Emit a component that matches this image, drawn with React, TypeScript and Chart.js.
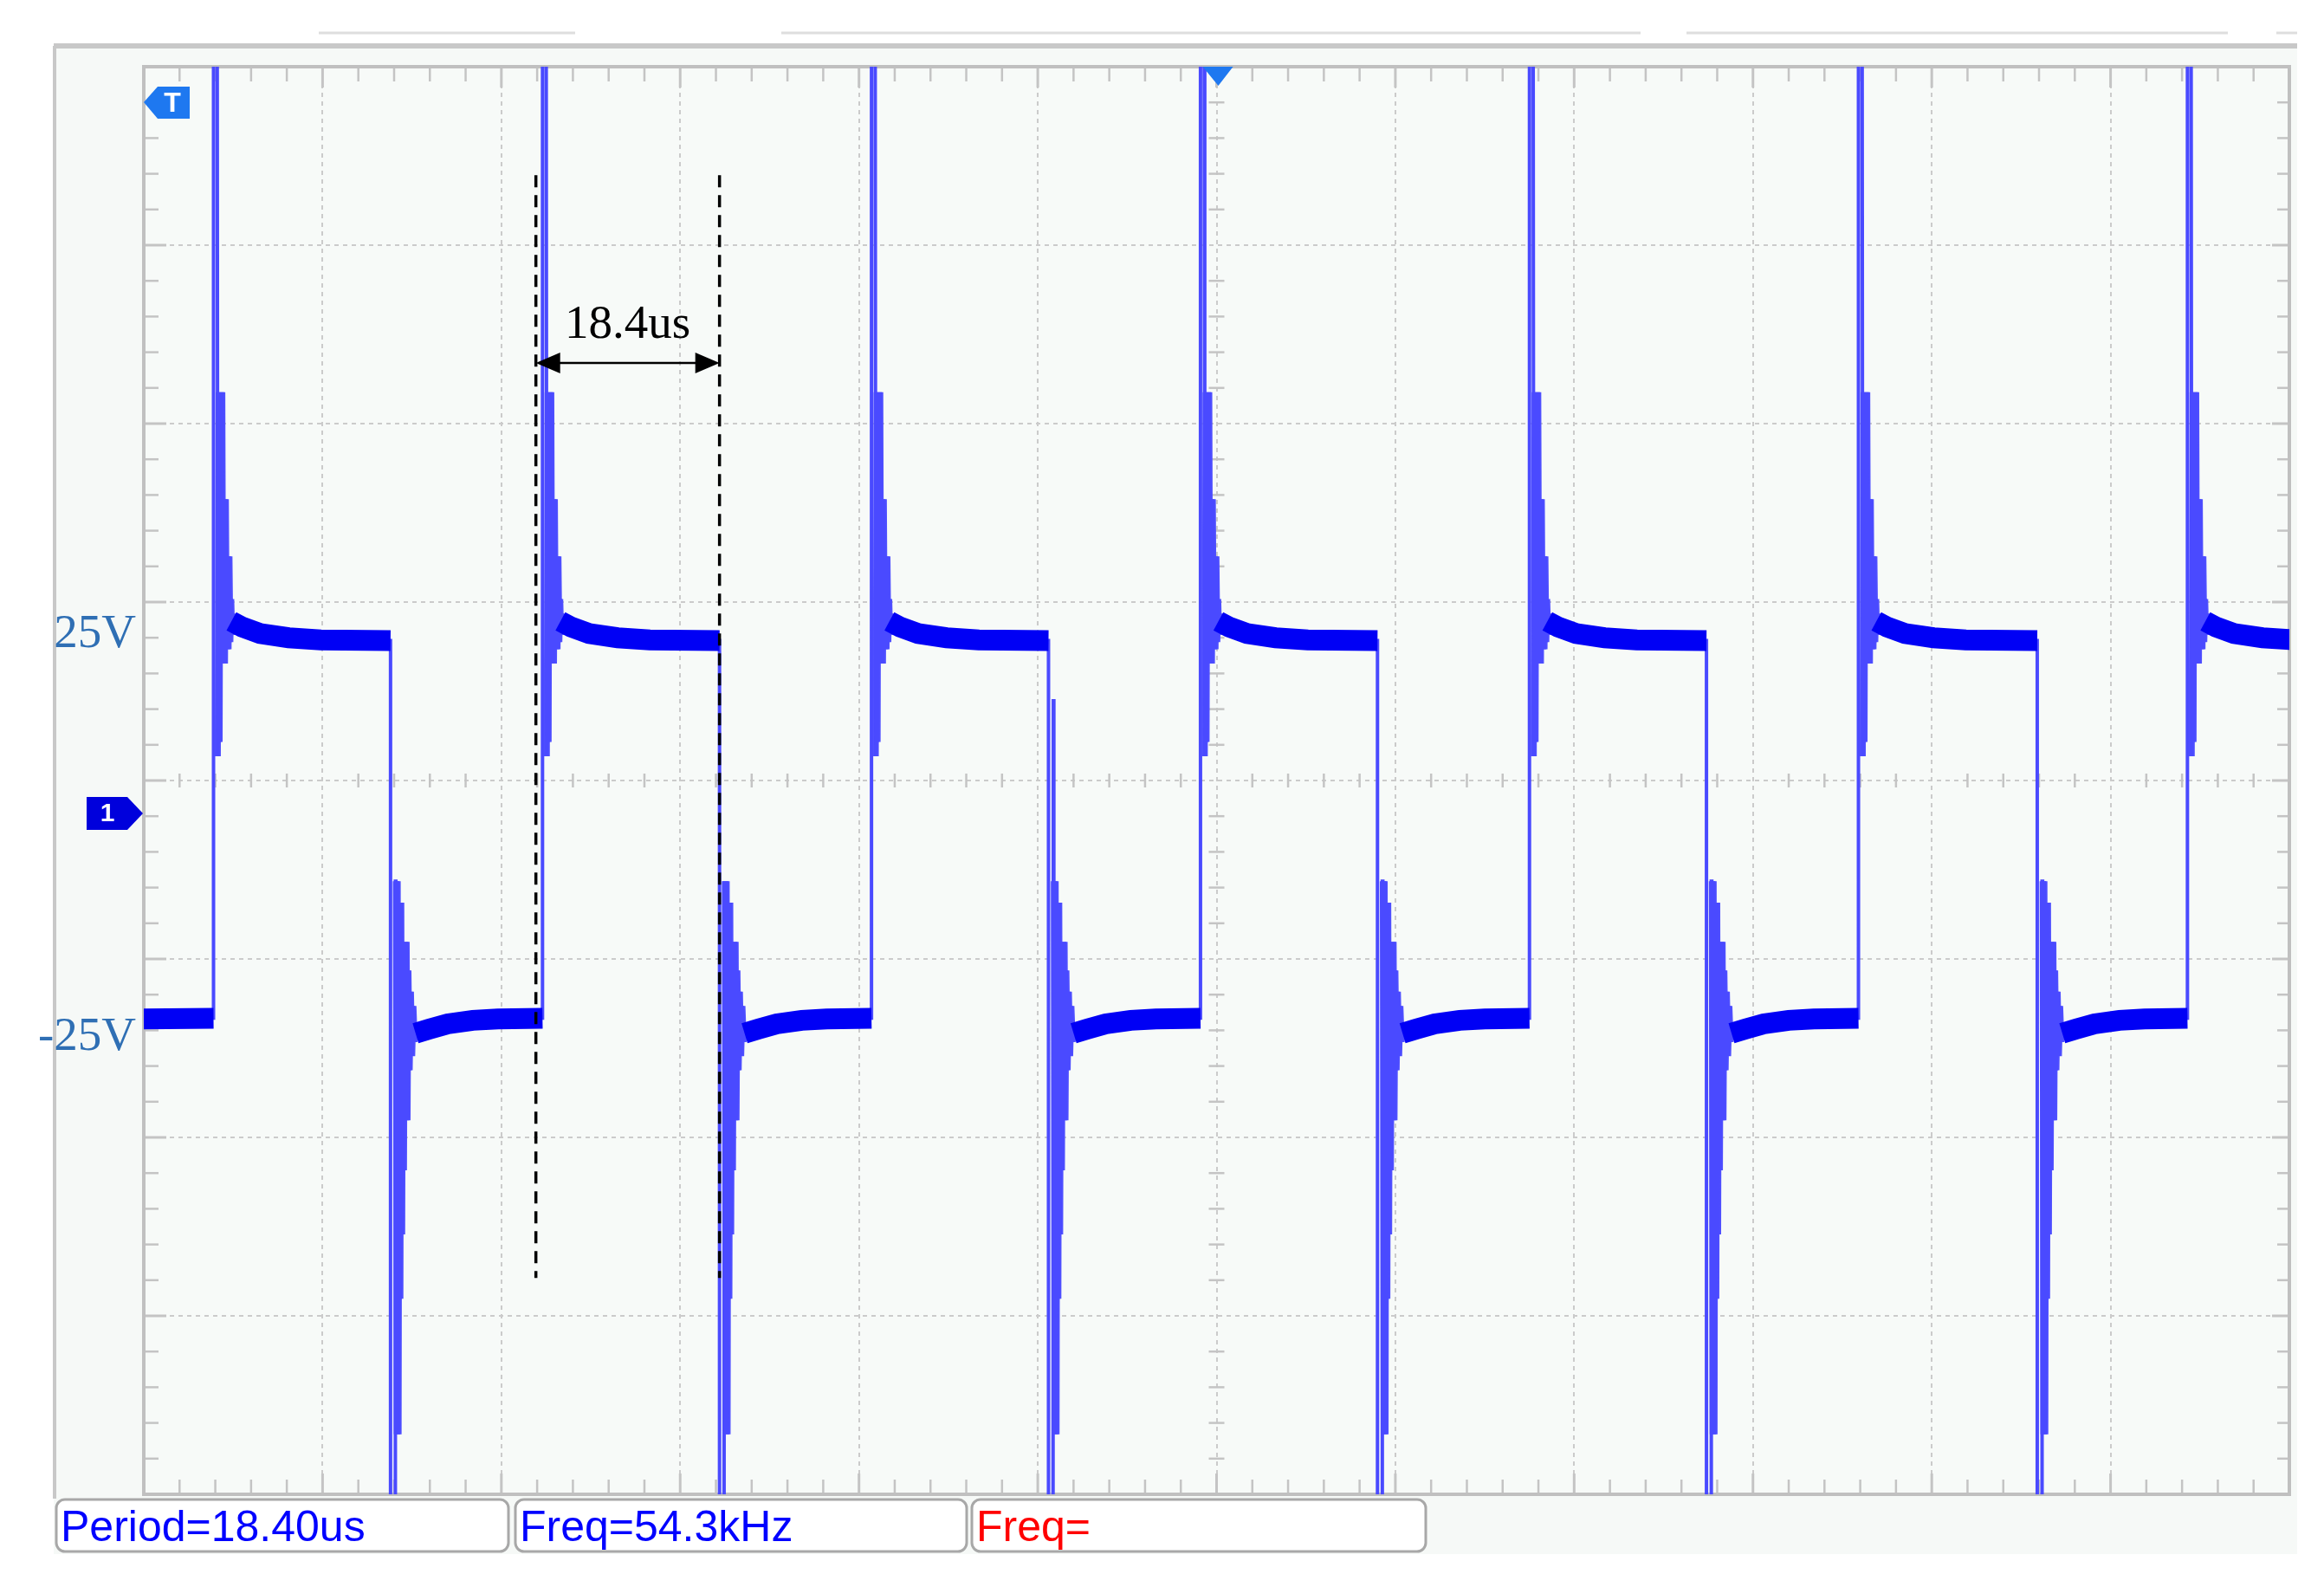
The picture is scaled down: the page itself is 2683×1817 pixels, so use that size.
import React, { useEffect, useRef } from 'react';
import { Chart, registerables } from 'chart.js';

Chart.register(...registerables);

const CANVAS_W = 2683;
const CANVAS_H = 1817;

// time axis in µs (10 µs/div, 12 divisions, trigger at 0)
const timeGrid = [-60, -50, -40, -30, -20, -10, 0, 10, 20, 30, 40, 50, 60];
// voltage axis in V (25 V/div, 8 divisions, ground marker slightly below centre)
const voltGrid = [-95.4, -70.4, -45.4, -20.4, 4.6, 29.6, 54.6, 79.6, 104.6];

// switching instants (µs)
const risingEdges = [-56.1, -37.7, -19.3, -0.9, 17.5, 35.9, 54.3];
const fallingEdges = [-46.2, -27.8, -9.4, 9.0, 27.4, 45.9];

// ringing after a rising edge: [µs after edge, V]
const riseRinging: [number, number][] = [
  [0, 130], [0.2, 130], [0.24, 8], [0.29, 59], [0.34, 10], [0.39, 59], [0.44, 21],
  [0.49, 59], [0.54, 21], [0.59, 44], [0.64, 21], [0.69, 44], [0.74, 23], [0.79, 36],
  [0.84, 23], [0.89, 36], [0.94, 24], [0.99, 30], [1.04, 25], [1.1, 28],
];
// ringing after a falling edge: [µs after edge, V]
const fallRinging: [number, number][] = [
  [0, -130], [0.25, -130], [0.3, -9.5], [0.35, -87], [0.4, -9.5], [0.45, -87],
  [0.5, -12.5], [0.55, -68], [0.6, -12.5], [0.65, -59], [0.7, -18], [0.75, -50],
  [0.8, -18], [0.85, -43], [0.9, -18], [0.95, -43], [1.0, -22], [1.07, -36],
  [1.14, -25], [1.21, -34], [1.28, -27], [1.35, -32], [1.42, -30],
];
// highest excursion right after each falling edge (V)
const fallOvershoot = [-9.5, -9.5, 16, -9.5, -9.5, -9.5];

// settled plateaus: [µs after edge, V]
const highPlateau: [number, number][] = [[1.0, 26.9], [1.6, 26.1], [2.6, 25.2], [4.2, 24.6], [6.0, 24.3]];
const lowPlateau: [number, number][] = [[1.4, -30.8], [2.2, -30.2], [3.2, -29.5], [4.6, -29.0], [6.0, -28.8]];
const highEndLevel = 24.2;
const lowEndLevel = -28.7;
const startLevel = -28.8;

// period annotation
const markerTimes = [-38.07, -27.8];
const markerSpan = [89.4, -65.1];
const arrowLevel = 63.1;
const periodText = '18.4us';
const periodTextBaseline = 66.6;

// voltage labels
const voltLabels = ['25V', '-25V'];
const voltLabelBaselines = [23.3, -33.1];

// measurement read-outs
const measurements = ['Period=18.40us', 'Freq=54.3kHz', 'Freq='];
const measurementColors = ['#0000ff', '#0000ff', '#ff0000'];

const X_MIN = timeGrid[0];
const X_MAX = timeGrid[timeGrid.length - 1];
const Y_MIN = voltGrid[0];
const Y_MAX = voltGrid[voltGrid.length - 1];

type P = { x: number; y: number | null };

function buildTrace() {
  const thin: P[] = [];
  const thick: P[] = [];
  const ring: P[] = [];
  thin.push({ x: X_MIN, y: startLevel });
  thick.push({ x: X_MIN, y: startLevel });
  risingEdges.forEach((tr, i) => {
    thin.push({ x: tr, y: lowEndLevel });
    thick.push({ x: tr, y: lowEndLevel });
    thick.push({ x: tr, y: null });
    riseRinging.forEach(([dt, v], k) => {
      thin.push({ x: tr + dt, y: v });
      if (k >= 2) ring.push({ x: tr + dt, y: v });
    });
    ring.push({ x: tr + 1.2, y: null });
    const tf = i < fallingEdges.length ? fallingEdges[i] : X_MAX;
    highPlateau.forEach(([dt, v]) => {
      thin.push({ x: tr + dt, y: v });
      thick.push({ x: tr + dt, y: v });
    });
    thin.push({ x: tf, y: highEndLevel });
    thick.push({ x: tf, y: highEndLevel });
    thick.push({ x: tf, y: null });
    if (i < fallingEdges.length) {
      fallRinging.forEach(([dt, v], k) => {
        thin.push({ x: tf + dt, y: v });
        if (k === 1) thin.push({ x: tf + 0.27, y: fallOvershoot[i] });
        if (k >= 2) ring.push({ x: tf + dt, y: v });
      });
      ring.push({ x: tf + 1.5, y: null });
      lowPlateau.forEach(([dt, v]) => {
        thin.push({ x: tf + dt, y: v });
        thick.push({ x: tf + dt, y: v });
      });
    }
  });
  return { thin, thick, ring };
}

const FONT_SANS = '"Liberation Sans", Arial, sans-serif';
const FONT_SERIF = '"Liberation Serif", "Times New Roman", serif';

function seg(ctx: CanvasRenderingContext2D, x0: number, y0: number, x1: number, y1: number) {
  ctx.beginPath();
  ctx.moveTo(x0, y0);
  ctx.lineTo(x1, y1);
  ctx.stroke();
}

const scopePlugin = {
  id: 'scopeDecor',
  beforeDraw(chart: any) {
    const { ctx, chartArea: a } = chart;
    ctx.save();
    ctx.fillStyle = '#ffffff';
    ctx.fillRect(0, 0, CANVAS_W, CANVAS_H);
    ctx.fillStyle = '#f6f9f7';
    ctx.fillRect(62, 52, 2590, 1742);
    ctx.strokeStyle = '#dedede';
    ctx.lineWidth = 3;
    [[368, 664], [902, 1894], [1947, 2572], [2628, 2652]].forEach(([x0, x1]) => seg(ctx, x0, 38, x1, 38));
    ctx.strokeStyle = '#c8c8c8';
    ctx.lineWidth = 6;
    seg(ctx, 62, 53, 2652, 53);
    ctx.lineWidth = 4;
    seg(ctx, 63, 53, 63, 1730);
    ctx.fillStyle = '#f7faf8';
    ctx.fillRect(a.left, a.top, a.right - a.left, a.bottom - a.top);
    ctx.restore();
  },
  beforeDatasetsDraw(chart: any) {
    const { ctx, chartArea: a, scales } = chart;
    const xs = scales.x;
    const ys = scales.y;
    const xc = xs.getPixelForValue(0);
    const yc = ys.getPixelForValue(voltGrid[4]);
    ctx.save();
    ctx.strokeStyle = '#c4c4c4';
    ctx.lineWidth = 2.5;
    for (let i = 0; i < timeGrid.length - 1; i++) {
      for (let k = 1; k < 5; k++) {
        const px = xs.getPixelForValue(timeGrid[i] + ((timeGrid[i + 1] - timeGrid[i]) * k) / 5);
        seg(ctx, px, a.top, px, a.top + 17);
        seg(ctx, px, a.bottom - 17, px, a.bottom);
        seg(ctx, px, yc - 8, px, yc + 8);
      }
    }
    for (let i = 0; i < voltGrid.length - 1; i++) {
      for (let k = 1; k < 5; k++) {
        const py = ys.getPixelForValue(voltGrid[i] + ((voltGrid[i + 1] - voltGrid[i]) * k) / 5);
        seg(ctx, a.left, py, a.left + 17, py);
        seg(ctx, a.right - 14, py, a.right, py);
        seg(ctx, xc - 9, py, xc + 9, py);
      }
    }
    ctx.lineWidth = 3;
    timeGrid.forEach((t) => {
      const px = xs.getPixelForValue(t);
      seg(ctx, px, a.top, px, a.top + 24);
      seg(ctx, px, a.bottom - 24, px, a.bottom);
    });
    voltGrid.forEach((v) => {
      const py = ys.getPixelForValue(v);
      seg(ctx, a.left, py, a.left + 26, py);
      seg(ctx, a.right - 20, py, a.right, py);
    });
    ctx.strokeStyle = '#c0c0c0';
    ctx.lineWidth = 4;
    ctx.strokeRect(a.left, a.top, a.right - a.left, a.bottom - a.top);
    ctx.restore();
  },
  afterDatasetsDraw(chart: any) {
    const { ctx, chartArea: a, scales } = chart;
    const xs = scales.x;
    const ys = scales.y;
    ctx.save();

    // period arrow
    const xl = xs.getPixelForValue(markerTimes[0]);
    const xr = xs.getPixelForValue(markerTimes[1]);
    const ya = ys.getPixelForValue(arrowLevel);
    ctx.strokeStyle = '#000000';
    ctx.fillStyle = '#000000';
    ctx.lineWidth = 2.5;
    seg(ctx, xl + 10, ya, xr - 10, ya);
    ctx.beginPath();
    ctx.moveTo(xl, ya);
    ctx.lineTo(xl + 28, ya - 12);
    ctx.lineTo(xl + 28, ya + 12);
    ctx.closePath();
    ctx.fill();
    ctx.beginPath();
    ctx.moveTo(xr, ya);
    ctx.lineTo(xr - 28, ya - 12);
    ctx.lineTo(xr - 28, ya + 12);
    ctx.closePath();
    ctx.fill();
    ctx.font = `55px ${FONT_SERIF}`;
    ctx.textAlign = 'center';
    ctx.textBaseline = 'alphabetic';
    ctx.fillText(periodText, (xl + xr) / 2, ys.getPixelForValue(periodTextBaseline));

    // voltage labels
    ctx.fillStyle = '#2f6fb4';
    ctx.textAlign = 'right';
    ctx.font = `55px ${FONT_SERIF}`;
    voltLabels.forEach((t, i) => ctx.fillText(t, a.left - 9, ys.getPixelForValue(voltLabelBaselines[i])));

    // trigger marker "T"
    ctx.fillStyle = '#1e78f0';
    ctx.beginPath();
    ctx.moveTo(a.left, a.top + 41);
    ctx.lineTo(a.left + 16, a.top + 23);
    ctx.lineTo(a.left + 53, a.top + 23);
    ctx.lineTo(a.left + 53, a.top + 60);
    ctx.lineTo(a.left + 16, a.top + 60);
    ctx.closePath();
    ctx.fill();
    ctx.fillStyle = '#ffffff';
    ctx.font = `bold 32px ${FONT_SANS}`;
    ctx.textAlign = 'center';
    ctx.textBaseline = 'middle';
    ctx.fillText('T', a.left + 33, a.top + 43);

    // trigger position marker
    const x0 = xs.getPixelForValue(0);
    ctx.fillStyle = '#1e78f0';
    ctx.beginPath();
    ctx.moveTo(x0 - 16, a.top);
    ctx.lineTo(x0 + 19, a.top);
    ctx.lineTo(x0 + 2, a.top + 22);
    ctx.closePath();
    ctx.fill();

    // channel 1 ground marker
    const yg = ys.getPixelForValue(0);
    ctx.fillStyle = '#0000dc';
    ctx.beginPath();
    ctx.moveTo(a.left - 66, yg - 19);
    ctx.lineTo(a.left - 19, yg - 19);
    ctx.lineTo(a.left - 1, yg);
    ctx.lineTo(a.left - 19, yg + 19);
    ctx.lineTo(a.left - 66, yg + 19);
    ctx.closePath();
    ctx.fill();
    ctx.fillStyle = '#ffffff';
    ctx.font = `bold 30px ${FONT_SANS}`;
    ctx.fillText('1', a.left - 42, yg + 1);

    // measurement boxes
    const boxes = [[65, 522], [595, 521], [1122, 524]];
    boxes.forEach(([bx, bw], i) => {
      ctx.fillStyle = '#ffffff';
      ctx.strokeStyle = '#a8a8a8';
      ctx.lineWidth = 3;
      ctx.beginPath();
      (ctx as any).roundRect(bx, a.bottom + 6, bw, 60, 10);
      ctx.fill();
      ctx.stroke();
      ctx.fillStyle = measurementColors[i];
      ctx.font = `50px ${FONT_SANS}`;
      ctx.textAlign = 'left';
      ctx.textBaseline = 'alphabetic';
      ctx.fillText(measurements[i], bx + 5, a.bottom + 54);
    });
    ctx.restore();
  },
};

export default function App() {
  const ref = useRef<HTMLCanvasElement | null>(null);
  useEffect(() => {
    document.body.style.overflow = 'hidden';
    const canvas = ref.current;
    if (!canvas) return;
    const { thin, thick, ring } = buildTrace();
    const markerData: P[] = [
      { x: markerTimes[0], y: markerSpan[0] },
      { x: markerTimes[0], y: markerSpan[1] },
      { x: (markerTimes[0] + markerTimes[1]) / 2, y: null },
      { x: markerTimes[1], y: markerSpan[0] },
      { x: markerTimes[1], y: markerSpan[1] },
    ];
    const chart = new Chart(canvas, {
      type: 'line',
      data: {
        datasets: [
          {
            label: 'markers',
            data: markerData as any,
            borderColor: '#000000',
            borderWidth: 3.5,
            borderDash: [14, 9],
            pointRadius: 0,
            spanGaps: false,
            clip: 0,
          },
          {
            label: 'plateau',
            data: thick as any,
            borderColor: '#0000f5',
            borderWidth: 24,
            borderCapStyle: 'butt',
            pointRadius: 0,
            spanGaps: false,
            clip: 0,
          },
          {
            label: 'CH1',
            data: thin as any,
            borderColor: '#4a4aff',
            borderWidth: 4,
            pointRadius: 0,
            spanGaps: false,
            clip: 0,
          },
          {
            label: 'ringing',
            data: ring as any,
            borderColor: '#5050ff',
            borderWidth: 7,
            pointRadius: 0,
            spanGaps: false,
            clip: 0,
          },
        ] as any,
      },
      options: {
        responsive: false,
        animation: false,
        devicePixelRatio: 1,
        events: [],
        layout: { padding: { left: 166, top: 77, right: 40, bottom: 92 } },
        plugins: {
          legend: { display: false },
          tooltip: { enabled: false },
          title: { display: false },
        },
        scales: {
          x: {
            type: 'linear',
            min: X_MIN,
            max: X_MAX,
            ticks: { display: false },
            grid: { color: '#cbcbcb', lineWidth: 2, drawTicks: false },
            border: { display: false, dash: [5, 5] },
            afterBuildTicks: (s: any) => {
              s.ticks = timeGrid.map((v) => ({ value: v }));
            },
          },
          y: {
            type: 'linear',
            min: Y_MIN,
            max: Y_MAX,
            ticks: { display: false },
            grid: { color: '#cbcbcb', lineWidth: 2, drawTicks: false },
            border: { display: false, dash: [5, 5] },
            afterBuildTicks: (s: any) => {
              s.ticks = voltGrid.map((v) => ({ value: v }));
            },
          },
        },
      } as any,
      plugins: [scopePlugin as any],
    });
    return () => chart.destroy();
  }, []);
  return (
    <div style={{ position: 'absolute', left: 0, top: 0, width: CANVAS_W, height: CANVAS_H }}>
      <canvas ref={ref} width={CANVAS_W} height={CANVAS_H} style={{ width: CANVAS_W, height: CANVAS_H, display: 'block' }} />
    </div>
  );
}
